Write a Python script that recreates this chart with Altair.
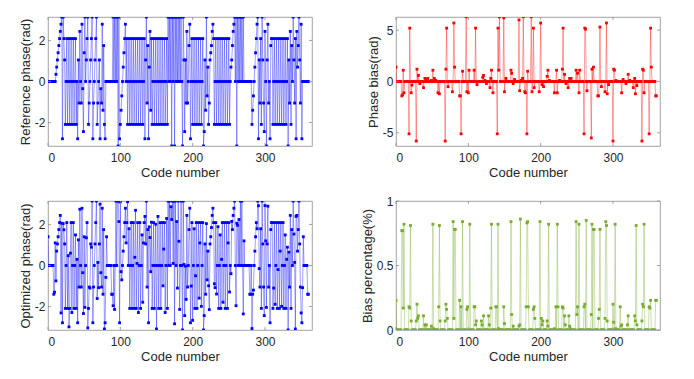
import altair as alt
import pandas as pd

# ---------------- data ----------------
code = list(range(361))

ref_phase = [
    0, 0, 0, 0, 0, 0, 0, 0, 0, 0, 0,
    0.35, 0.70, 1.05, 1.40, 1.75, 2.09, 2.44, 2.79, 3.14,
    -2.79, 3.14, 2.09,
    1.05, -2.09, 0, 2.09, -2.09, 0, 2.09, -2.09, 0, 2.09, -2.09, 0, 2.09, -2.09, 0, 2.09, -2.09, 0,
    -2.79, 1.05, -1.05, 2.44, 0, -1.05, 2.79, -0.35, -2.44, 1.40, 3.14,
    0, 1.05, 2.09, 3.14, -2.09, -1.05, 0, 1.05, 2.09, 3.14, -2.79, -1.05, 0, 1.05, 2.09, 3.14, -2.09, -1.05, 0, 1.05, -2.79,
    -0.35, -1.05, 2.79, -1.40, 1.75, -2.09, -2.79,
    0, 0, 0, 0, 0, 0, 0, 0, 0, 0,
    3.14, 0, 3.14, 0, 3.14, 0, 3.14, -3.14, 3.14,
    -2.79, -2.09, -1.40, -0.70, 0, 0.70, 1.40, 2.09, 2.79,
    0, 2.09, -2.09, 0, 2.09, -2.09, 0, 2.09, -2.09, 0, 2.09, -2.09, 0, 2.09, -2.09, 0, 2.09, -2.09,
    0, 2.09, -2.09, 0, 2.09, -2.09, 0, 2.09,
    -2.79, 1.05, 3.14, -1.05, 1.75, -2.79, 0.70, 2.44, -1.40,
    2.09, -2.09, 0, 2.09, -2.09, 0, 2.09, -2.09, 0, 2.09, -2.09, 0, 2.09, -2.09, 0, 2.09, -2.09, 0,
    2.09, -2.09, 0, 2.09, -2.09,
    3.14, 0, 3.14, 0, 3.14, -3.14, 3.14, 0, 3.14, -3.14, 3.14, 0, 3.14, 0, 3.14, 0, 3.14, 0, 3.14, 0, -3.14, 3.14,
    1.05, -2.44, 1.05, -1.05, 2.44, -1.05, 0, 1.75, 2.79, -2.79,
    0, 2.09, -2.09, 0, 2.09, -2.09, 0, 2.09, -2.09, 0, 2.09, -2.09, 0, 2.09, -2.09, 0, 2.09,
    -3.14, -2.44, 1.05, -1.40, 3.14, -0.70, 0.70, -2.09, -1.05, 1.05, 1.40, 1.75, 2.44, 2.79,
    2.09, -2.09, 0, 2.09, -2.09, 0, 2.09, -2.09, 0, 2.09, -2.09, 0, 2.09, -2.09, 0, 2.09, -2.09, 0,
    2.09, -2.09, 0, 2.09, -2.09, 0,
    0.70, 1.05, 1.75, 2.44, 2.79,
    3.14, 0, 3.14, -3.14, 3.14, 0, 3.14, 0, 3.14, 0, 3.14, 0, 3.14, 0,
    0, 0, 0, 0, 0, 0, 0, 0, 0, 0,
    -2.09, -1.40, -0.70, 0, 0.70, 1.40, 2.09, 2.79, 3.14, -2.79, 1.05, -1.05, 2.09, -2.09, 3.14, 1.05,
    -1.05, -2.44, 2.44, 0, -3.14, 1.05, 2.79, -1.05, 0, -2.79, 1.75, 2.09,
    2.09, -2.09, 0, 2.09, -2.09, 0, 2.09, -2.09, 0, 2.09, -2.09, 0, 2.09, -2.09, 0, 2.09, -2.09, 0,
    2.09, -2.09, 0, 2.09,
    -3.14, 1.05, -1.05, 2.44, -2.09, 1.75, 0, 3.14, 1.05, -1.05, 2.09, -2.79, 2.44, 0.70, 1.75, 3.14,
    1.05, -1.05, 2.79, -2.79,
    0, 0, 0, 0, 0, 0, 0, 0, 0,
]

opt_phase = [
    1.40, 0, 0, 0, 0, 0, 0, 0, -1.40, -1.30, 1.10,
    -0.75, 0.70, 1.05, 1.40, 1.75, 2.09, 2.44, -2.31, 2.06,
    -2.79, 2.04, 1.74,
    1.05, -2.09, 0, 2.09, -2.09, 0.48, -2.99, -2.09, 0.60, 2.09, -2.29, 0, 2.09, -2.09, 0, 1.49, -2.09, 0.30,
    -2.79, 1.25, -1.05, 2.74, 0, -1.05, 2.79, -0.35, -2.34, 1.40, -2.04,
    0, 1.35, 2.09, -3.04, -2.09, -1.05, -1.10, 1.05, 0.89, 3.14, -2.79, -1.05, 0, 1.05, 2.09, 3.14, -1.61,
    0.15, -1.08, 1.05, 2.99,
    -0.35, -1.05, 2.79, -1.40, 1.75, -3.09, -2.79,
    -0.58, 1.40, 0, 0, 0, 0, 0, 0, -1.40, -1.40,
    -1.96, 0, -2.14, 0, 3.14, 0, 3.14, 3.14, 2.14,
    -2.79, 3.09, -0.30, -0.70, 0, 0.70, 1.40, 2.09, 2.79,
    1.10, 2.09, 3.11, 0, 1.79, -2.09, 0, 2.09, -2.09, 0, 2.09, -2.09, 0.40, 2.69, -2.09, 0.10, 2.09, -2.29,
    0, 2.09, -2.09, 0, 1.49, -1.79, 1.10, 2.09,
    2.39, 1.05, 3.14, -1.05, 1.75, -2.79, 1.88, 1.36, -0.30,
    2.11, -2.09, 0, 2.09, -2.09, 0, 2.01, -3.09, 0, 2.39, -2.09, 0, 2.09, -2.09, 0, 2.09, -0.99, 0.80,
    2.09, -2.29, 0, 2.29, -2.09,
    3.14, 0, 3.14, 0, 2.86, 2.24, 3.14, 0.10, 3.14, -2.84, 3.14, 0, 2.14, -1.10, 3.14, 1.18, -2.14, 0,
    3.14, 0, -3.14, 3.14,
    0.05, -2.44, -0.03, -1.65, 2.44, -1.05, 0, 1.75, 2.79, -2.79,
    -1.00, 2.09, -2.67, 0, 1.79, -2.09, -0.50, 2.09, -2.09, 0, 2.09, -1.59, 1.10, 2.09, -1.99, 0, 2.09,
    -3.14, -2.44, 1.05, -1.40, 2.04, -0.70, 0.70, -0.99, -2.15, 1.05, 1.40, 1.85, 2.44, 2.79,
    2.09, -0.89, -1.08, 2.09, -1.39, 0, 1.89, -2.09, 0, 1.49, -2.09, 0.30, 2.09, -1.79, 0, 2.09, -2.09, 0,
    2.09, -2.09, 1.10, 2.09, -1.29, 0,
    -0.40, 2.15, 1.75, 2.44, 2.79,
    3.14, 0, -1.96, 2.06, 1.96, 0, 2.24, 0, 3.14, 0, 3.14, 0, -2.36, 1.20,
    0, 0, 0, 0, 0, 0, 0, -1.40, -1.40, 0,
    -3.07, -1.40, -1.20, 0, 0.70, 1.40, 2.09, 1.79, 3.14, 2.91, -0.15, -1.05, 1.79, -2.09, 3.14, 1.05,
    -1.05, -2.44, 2.92, 1.20, -2.04, 1.05, 2.89, -1.05, 0, -2.79, 1.75, 2.09,
    2.09, -2.09, -1.10, 2.09, -1.89, 0, 2.09, -2.09, -0.20, 2.09, -2.09, 0.70, 2.09, -1.99, 0, 2.09,
    -2.09, 0, 1.49, -2.09, 0.30, 0.89,
    -3.14, 0.65, -1.05, 2.44, -2.09, 1.75, 0, 3.14, 1.53, 0.15, -3.09, 2.39, 2.44, 0.70, 1.75, 3.14,
    1.05, -1.05, -2.31, -2.79,
    -1.08, 1.40, 0, 0, 0, 0, 0, -1.40, -1.40,
]

# phase bias: codes with a non-zero bias and their values (all other codes are 0)
bias_code = [0, 8, 9, 10, 11, 18, 19, 21, 22, 28, 29, 31, 33, 38, 40, 42, 44, 49, 51, 53, 55, 58, 60,
             68, 69, 70, 72, 78, 80, 81, 88, 89, 90, 92, 97, 98, 100, 101, 108, 110, 112, 120, 121,
             123, 125, 130, 131, 132, 134, 140, 141, 142, 143, 149, 150, 152, 159, 160, 162, 164,
             170, 171, 173, 175, 176, 178, 179, 181, 182, 187, 188, 190, 191, 198, 200, 202, 204,
             209, 210, 212, 219, 222, 223, 226, 230, 231, 233, 235, 238, 240, 242, 249, 251, 253,
             254, 260, 261, 262, 264, 270, 271, 273, 279, 280, 282, 284, 289, 291, 292, 294, 300,
             301, 302, 304, 312, 314, 318, 321, 323, 328, 330, 331, 333, 340, 341, 342, 343, 350,
             352, 353, 359, 360]
bias_value = [1.40, -1.40, -1.30, 1.10, -1.10, -5.10, 5.20, -1.10, -0.35, -5.80, 1.20, 0.60, -0.20,
              -0.60, 0.30, 0.20, 0.30, 0.10, 1.10, 0.30, 0.10, -1.10, -1.20,
              -5.80, 1.20, 5.20, -0.50, -1.00, 5.70, 1.40, -1.40, -1.40, -5.10, 1.00, 6.30, -1.00,
              -1.10, 1.10, 1.10, 5.20, -0.30, 0.40, 0.60,
              0.10, -0.20, -0.60, 0.30, 1.10, -1.10, -5.10, 5.20, 1.10, 6.30, 6.20, -1.00, 0.30,
              1.10, 0.80, -0.20, 0.20,
              6.00, -0.90, 0.10, 0.30, 6.30, -1.00, -1.10, -5.10, 1.00, 6.30, -1.00, 5.20, -0.60,
              -1.00, 5.70, -0.30, -0.50,
              0.50, 1.10, 0.10, -1.10, 1.10, -1.10, 0.10, 1.20, 5.20, 0.70, -0.20, -0.60, 0.30,
              0.30, 1.10, 0.80, -1.10,
              1.10, -5.10, 5.20, 5.10, -0.90, -5.50, 1.20, 1.40, -1.40, -1.40, 5.30, -0.50, -1.00,
              5.70, -1.20, -0.30, -5.80,
              1.20, 1.10, 0.10, -1.10, 0.20, -0.20, 0.70, 0.10, -0.60, 0.30, -1.20, -0.40, -5.80,
              1.20, 1.10, -1.10, -5.10,
              5.20, 1.40, -1.40, -1.40]

# bias percentage: codes with a non-zero percentage and their values (all other codes are 0)
pct_code = [0, 8, 9, 10, 11, 18, 19, 20, 21, 28, 29, 30, 31, 38, 40, 42, 49, 51, 52, 59, 60, 61,
            68, 69, 70, 71, 79, 80, 81, 82, 88, 90, 92, 98, 99, 102, 108, 109, 110, 111, 118, 119,
            121, 128, 129, 131, 132, 138, 139, 141, 142, 149, 150, 159, 160, 162, 170, 171, 172,
            180, 181, 182, 183, 190, 191, 192, 199, 201, 202, 203, 209, 210, 211, 219, 221, 223,
            224, 230, 231, 233, 234, 239, 240, 241, 249, 250, 251, 253, 260, 261, 263, 270, 271,
            273, 274, 280, 281, 282, 289, 290, 291, 292, 300, 301, 303, 304, 310, 311, 312, 320,
            321, 330, 331, 332, 333, 340, 341, 342, 343, 350, 351, 352, 359, 360]
pct_value = [0.23, 0.77, 0.77, 0.17, 0.82, 0.18, 0.17, 0.81, 0.07, 0.07, 0.20, 0.09, 0.11, 0.11,
             0.04, 0.04, 0.03, 0.82, 0.01, 0.18, 0.81, 0.07,
             0.07, 0.20, 0.16, 0.09, 0.84, 0.09, 0.78, 0.78, 0.23, 0.18, 0.84, 0.16, 0.18, 0.82,
             0.18, 0.18, 0.04, 0.07, 0.07, 0.04,
             0.11, 0.11, 0.04, 0.17, 0.82, 0.18, 0.18, 0.82, 0.01, 0.18, 0.05, 0.84, 0.12, 0.03,
             0.03, 0.04, 0.86,
             0.18, 0.83, 0.84, 0.18, 0.16, 0.18, 0.09, 0.84, 0.09, 0.04, 0.07, 0.07, 0.03, 0.82,
             0.01, 0.18, 0.82,
             0.18, 0.18, 0.17, 0.11, 0.04, 0.11, 0.03, 0.01, 0.84, 0.12, 0.18, 0.82, 0.18, 0.20,
             0.85, 0.12, 0.82,
             0.78, 0.78, 0.09, 0.16, 0.78, 0.09, 0.84, 0.81, 0.07, 0.20, 0.06, 0.82, 0.01, 0.18,
             0.03, 0.04, 0.04,
             0.11, 0.11, 0.07, 0.81, 0.04, 0.07, 0.20, 0.18, 0.82, 0.18, 0.17, 0.23, 0.23, 0.23]

x_ticks = [0, 100, 200, 300]
phase_ticks = [-2, 0, 2]
bias_ticks = [-5, 0, 5]
pct_ticks = [0, 0.5, 1]

assert len(ref_phase) == 361 and len(opt_phase) == 361
assert len(bias_code) == len(bias_value) and len(pct_code) == len(pct_value)

# ---------------- table ----------------
bias = [0.0] * len(code)
for c, v in zip(bias_code, bias_value):
    bias[c] = v
pct = [0.0] * len(code)
for c, v in zip(pct_code, pct_value):
    pct[c] = v

df = pd.DataFrame({"code": code, "ref": ref_phase, "opt": opt_phase, "bias": bias, "pct": pct})

W, H = 264, 129
BOX = "#8c8c8c"
PI = 3.14159
LBL = "'' + datum.value"


def panel(col, color, ydomain, yticks, ytitle):
    xenc = alt.X("code:Q", scale=alt.Scale(domain=[0, 365], nice=False, zero=False),
                 axis=alt.Axis(values=x_ticks, title="Code number", labelExpr=LBL))
    yenc = alt.Y(f"{col}:Q", scale=alt.Scale(domain=ydomain, nice=False, zero=False),
                 axis=alt.Axis(values=yticks, title=ytitle, labelExpr=LBL))
    base = alt.Chart(df)
    line = base.mark_line(color=color, strokeWidth=0.7, opacity=0.55, clip=True).encode(x=xenc, y=yenc)
    pts = base.mark_point(shape="square", filled=True, size=8, color=color, opacity=1,
                          clip=True).encode(x=xenc, y=yenc)
    xt = alt.Chart(pd.DataFrame({"code": x_ticks}))
    yt = alt.Chart(pd.DataFrame({col: yticks}))
    tb = xt.mark_rule(color=BOX, strokeWidth=0.8).encode(x=xenc, y=alt.value(H), y2=alt.value(H - 3))
    tt = xt.mark_rule(color=BOX, strokeWidth=0.8).encode(x=xenc, y=alt.value(0), y2=alt.value(3))
    tl = yt.mark_rule(color=BOX, strokeWidth=0.8).encode(y=yenc, x=alt.value(0), x2=alt.value(3))
    tr = yt.mark_rule(color=BOX, strokeWidth=0.8).encode(y=yenc, x=alt.value(W), x2=alt.value(W - 3))
    return alt.layer(line, pts, tb, tt, tl, tr).properties(width=W, height=H)


p1 = panel("ref", "#0000FF", [-PI, PI], phase_ticks, "Reference phase(rad)")
p2 = panel("bias", "#FF0000", [-2 * PI, 2 * PI], bias_ticks, "Phase bias(rad)")
p3 = panel("opt", "#0000FF", [-PI, PI], phase_ticks, "Optimized phase(rad)")
p4 = panel("pct", "#77AC30", [0, 1], pct_ticks, "Bias percentage(%)")

chart = alt.concat(p1, p2, p3, p4, columns=2, spacing={"row": 55, "column": 84},
                   bounds="flush").properties(
    padding={"left": 10, "top": 8, "right": 5, "bottom": 5}
).configure_view(stroke=BOX, strokeWidth=0.8).configure_axis(
    domain=False, ticks=False, tickSize=0, grid=False,
    labelFont="Liberation Sans", labelFontSize=12, labelColor="#262626",
    titleFont="Liberation Sans", titleFontSize=13, titleFontWeight="normal", titleColor="#262626",
    labelPadding=3, titlePadding=2,
).configure_axisX(labelPadding=6, titlePadding=3)

chart.save("out.html", embed_options={"renderer": "svg", "actions": False})
